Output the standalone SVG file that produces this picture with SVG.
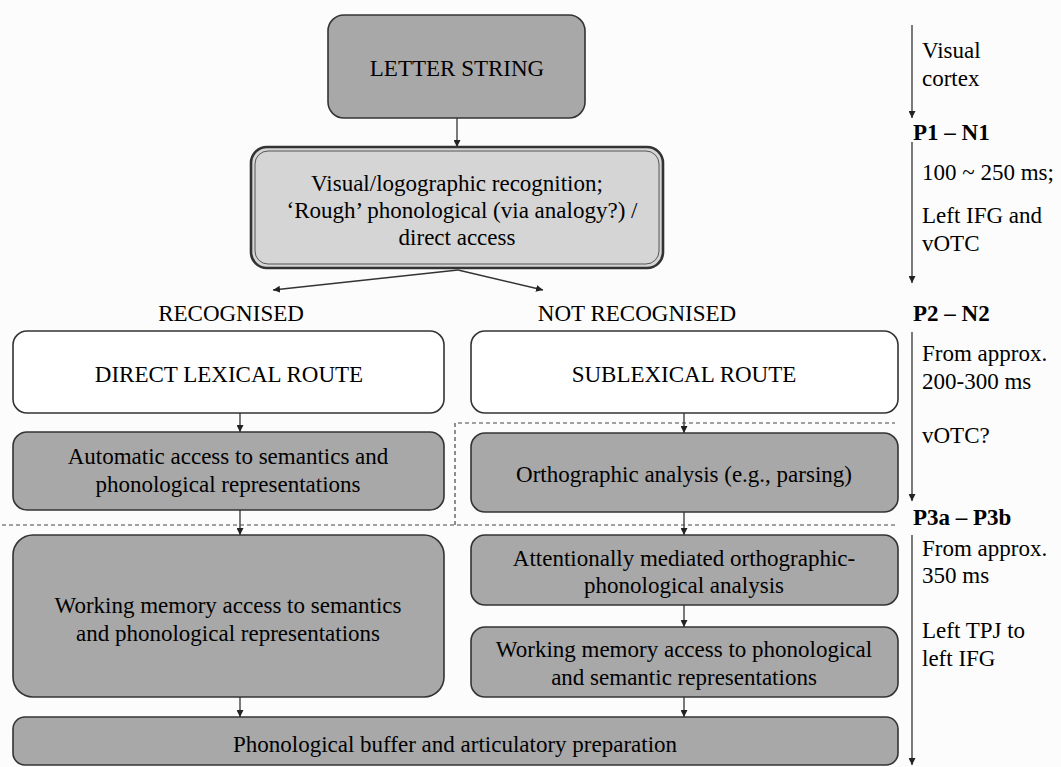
<svg xmlns="http://www.w3.org/2000/svg" width="1061" height="767" viewBox="0 0 1061 767">
<defs>
<marker id="ah" viewBox="0 0 10 10" refX="10" refY="5" markerWidth="7" markerHeight="7" markerUnits="userSpaceOnUse" orient="auto">
<path d="M0,0 L10,5 L0,10 z" fill="#222"/>
</marker>
<style>
text{font-family:"Liberation Serif","Times New Roman",serif;font-size:23px;fill:#000;dominant-baseline:central}
.c{text-anchor:middle}
.b{font-weight:bold}
.dark{fill:#a8a8a8;stroke:#333;stroke-width:1.6}
.light{fill:#d5d5d5;stroke:#333;stroke-width:2.6}
.white{fill:#fff;stroke:#333;stroke-width:1.6}
.con{stroke:#333;stroke-width:1.3;fill:none;marker-end:url(#ah)}
.dash{stroke:#444;stroke-width:1.2;fill:none;stroke-dasharray:4,3}
</style>
</defs>
<rect width="1061" height="767" fill="#fcfcfc"/>

<g id="connectors">
<line class="con" x1="457" y1="118" x2="457" y2="147"/>
<line class="con" x1="458" y1="270" x2="273" y2="290"/>
<line class="con" x1="458" y1="270" x2="543" y2="290"/>
<line class="con" x1="240" y1="413" x2="240" y2="432"/>
<line class="con" x1="684" y1="413" x2="684" y2="433"/>
<line class="con" x1="240" y1="510" x2="240" y2="535"/>
<line class="con" x1="684" y1="512" x2="684" y2="535"/>
<line class="con" x1="684" y1="605" x2="684" y2="627"/>
<line class="con" x1="240" y1="697" x2="240" y2="717"/>
<line class="con" x1="684" y1="697" x2="684" y2="717"/>
</g>

<g id="dashed-region">
<path class="dash" d="M455,525 L455,423 L895,423"/>
<line class="dash" x1="2" y1="525" x2="895" y2="525"/>
</g>

<g id="letter-string">
<rect class="dark" x="328" y="15" width="257" height="103" rx="16"/>
<text class="c" x="457" y="68">LETTER STRING</text>
</g>

<g id="visual-recognition">
<rect class="light" x="251" y="147" width="412" height="121" rx="16"/>
<rect x="255" y="151" width="404" height="113" rx="13" fill="none" stroke="#555" stroke-width="1"/>
<text class="c" x="457" y="183">Visual/logographic recognition;</text>
<text class="c" x="462" y="210">‘Rough’ phonological (via analogy?) /</text>
<text class="c" x="457" y="237">direct access</text>
</g>

<g id="labels">
<text class="c" x="231" y="313">RECOGNISED</text>
<text class="c" x="637" y="313">NOT RECOGNISED</text>
</g>

<g id="direct-lexical">
<rect class="white" x="13" y="331" width="431" height="82" rx="14"/>
<text class="c" x="229" y="374">DIRECT LEXICAL ROUTE</text>
</g>

<g id="sublexical">
<rect class="white" x="471" y="331" width="427" height="82" rx="14"/>
<text class="c" x="684" y="374">SUBLEXICAL ROUTE</text>
</g>

<g id="automatic-access">
<rect class="dark" x="13" y="432" width="431" height="78" rx="14"/>
<text class="c" x="228" y="456">Automatic access to semantics and</text>
<text class="c" x="228" y="484">phonological representations</text>
</g>

<g id="orthographic">
<rect class="dark" x="471" y="433" width="427" height="79" rx="14"/>
<text class="c" x="684" y="474">Orthographic analysis (e.g., parsing)</text>
</g>

<g id="wm-left">
<rect class="dark" x="13" y="535" width="431" height="162" rx="20"/>
<text class="c" x="228" y="605">Working memory access to semantics</text>
<text class="c" x="228" y="633">and phonological representations</text>
</g>

<g id="attentional">
<rect class="dark" x="471" y="535" width="427" height="70" rx="14"/>
<text class="c" x="684" y="558">Attentionally mediated orthographic-</text>
<text class="c" x="684" y="585">phonological analysis</text>
</g>

<g id="wm-right">
<rect class="dark" x="471" y="627" width="427" height="70" rx="14"/>
<text class="c" x="684" y="649">Working memory access to phonological</text>
<text class="c" x="684" y="677">and semantic representations</text>
</g>

<g id="phonological-buffer">
<rect class="dark" x="13" y="717" width="885" height="48" rx="12"/>
<text class="c" x="455" y="744">Phonological buffer and articulatory preparation</text>
</g>

<g id="timeline">
<line class="con" x1="912" y1="25" x2="912" y2="118"/>
<line class="con" x1="912" y1="142" x2="912" y2="283"/>
<line class="con" x1="912" y1="332" x2="912" y2="501"/>
<line class="con" x1="912" y1="535" x2="912" y2="765"/>
<text x="922" y="50">Visual</text>
<text x="922" y="78">cortex</text>
<text class="b" x="913" y="132">P1 – N1</text>
<text x="922" y="172">100 ~ 250 ms;</text>
<text x="922" y="215">Left IFG and</text>
<text x="922" y="243">vOTC</text>
<text class="b" x="913" y="313">P2 – N2</text>
<text x="922" y="353">From approx.</text>
<text x="922" y="381">200-300 ms</text>
<text x="922" y="435">vOTC?</text>
<text class="b" x="913" y="517">P3a – P3b</text>
<text x="922" y="548">From approx.</text>
<text x="922" y="575">350 ms</text>
<text x="922" y="630">Left TPJ to</text>
<text x="922" y="658">left IFG</text>
</g>
</svg>
